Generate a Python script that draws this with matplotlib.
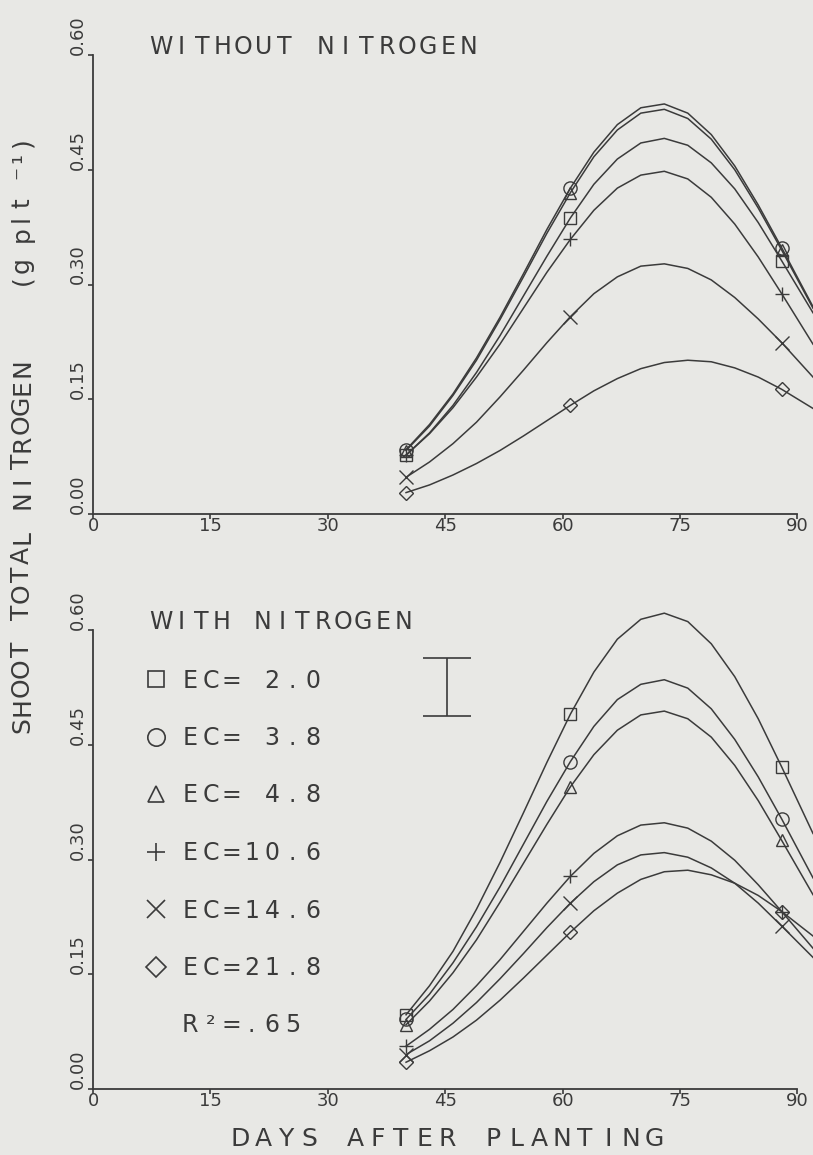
import matplotlib
matplotlib.use('Agg')
import matplotlib.pyplot as plt
from matplotlib.lines import Line2D

W, H = 813, 1155
BG = '#e8e8e5'
INK = '#3b3b3b'

days = [40, 43, 46, 49, 52, 55, 58, 61, 64, 67, 70, 73, 76, 79, 82, 85, 88, 92]
sample_days = [40, 61, 88]

# WITHOUT NITROGEN (g plt-1)
wo_ec20 = [0.077, 0.106, 0.142, 0.185, 0.233, 0.285, 0.337, 0.387, 0.431, 0.464, 0.485, 0.491, 0.482, 0.459, 0.425, 0.381, 0.331, 0.263]
wo_ec38 = [0.084, 0.117, 0.157, 0.204, 0.257, 0.314, 0.372, 0.426, 0.473, 0.509, 0.531, 0.536, 0.524, 0.496, 0.455, 0.404, 0.348, 0.271]
wo_ec48 = [0.083, 0.115, 0.155, 0.201, 0.254, 0.310, 0.367, 0.420, 0.467, 0.502, 0.524, 0.529, 0.517, 0.490, 0.450, 0.400, 0.345, 0.269]
wo_ec106 = [0.077, 0.105, 0.139, 0.179, 0.222, 0.269, 0.316, 0.359, 0.397, 0.426, 0.443, 0.448, 0.438, 0.414, 0.379, 0.336, 0.288, 0.222]
wo_ec146 = [0.048, 0.068, 0.092, 0.120, 0.153, 0.188, 0.224, 0.258, 0.288, 0.310, 0.324, 0.327, 0.321, 0.306, 0.283, 0.255, 0.224, 0.179]
wo_ec218 = [0.028, 0.038, 0.051, 0.066, 0.083, 0.102, 0.122, 0.142, 0.161, 0.177, 0.190, 0.198, 0.201, 0.199, 0.191, 0.179, 0.163, 0.138]

# WITH NITROGEN
wn_ec20 = [0.097, 0.135, 0.180, 0.235, 0.296, 0.361, 0.427, 0.490, 0.545, 0.588, 0.614, 0.622, 0.611, 0.582, 0.539, 0.484, 0.421, 0.334]
wn_ec38 = [0.091, 0.124, 0.165, 0.212, 0.264, 0.320, 0.376, 0.428, 0.474, 0.509, 0.529, 0.535, 0.524, 0.497, 0.457, 0.408, 0.353, 0.276]
wn_ec48 = [0.084, 0.115, 0.152, 0.195, 0.244, 0.295, 0.346, 0.395, 0.437, 0.469, 0.489, 0.494, 0.484, 0.460, 0.423, 0.377, 0.325, 0.254]
wn_ec106 = [0.056, 0.078, 0.104, 0.135, 0.169, 0.206, 0.243, 0.278, 0.308, 0.331, 0.345, 0.348, 0.341, 0.324, 0.299, 0.267, 0.232, 0.184]
wn_ec146 = [0.045, 0.063, 0.086, 0.113, 0.144, 0.177, 0.211, 0.243, 0.271, 0.293, 0.306, 0.309, 0.303, 0.289, 0.269, 0.243, 0.213, 0.172]
wn_ec218 = [0.035, 0.050, 0.068, 0.090, 0.116, 0.145, 0.175, 0.205, 0.233, 0.256, 0.274, 0.284, 0.286, 0.280, 0.269, 0.253, 0.232, 0.200]

ec_labels = ['EC= 2.0', 'EC= 3.8', 'EC= 4.8', 'EC=10.6', 'EC=14.6', 'EC=21.8']
markers = ['s', 'o', '^', '+', 'x', 'D']
msizes = [9, 9.5, 8, 9.5, 9.5, 7]

# LSD bar in the lower panel
lsd_day = 45.2
lsd_mid = 0.526
lsd_half = 0.038

xticks = [0, 15, 30, 45, 60, 75, 90]
yticks = [0.0, 0.15, 0.30, 0.45, 0.60]
ylabels = ['0.00', '0.15', '0.30', '0.45', '0.60']

fig = plt.figure(figsize=(W / 100, H / 100), dpi=100, facecolor=BG)


def spaced(x, y, s, size, pitch, rot=0):
    # plotter style lettering: every character in its own slot (pixels, from top-left)
    for i, ch in enumerate(s):
        if rot == 0:
            px, py = x + i * pitch, y
        else:
            px, py = x, y - i * pitch
        fig.text(px / W, 1 - py / H, ch, fontsize=size, color=INK, family='DejaVu Sans',
                 ha='center', va='baseline', rotation=rot, rotation_mode='anchor')


def panel(top_px, bottom_px, curves):
    ax = fig.add_axes([93 / W, 1 - bottom_px / H, (W - 93) / W, (bottom_px - top_px) / H])
    ax.set_facecolor('none')
    ax.set_xlim(0, 92)
    ax.set_ylim(0, 0.6)
    for side in ['top', 'right']:
        ax.spines[side].set_visible(False)
    for side in ['left', 'bottom']:
        ax.spines[side].set_color(INK)
        ax.spines[side].set_linewidth(1.3)
    ax.spines['bottom'].set_bounds(0, 90)
    ax.set_xticks(xticks)
    ax.set_xticklabels([str(t) for t in xticks])
    ax.set_yticks(yticks)
    ax.set_yticklabels(ylabels, rotation=90, va='bottom')
    ax.tick_params(direction='out', length=3.5, width=1.2, colors=INK, labelsize=13)
    ax.tick_params(axis='x', pad=-1)
    ax.tick_params(axis='y', pad=1)
    for vals, m, ms in zip(curves, markers, msizes):
        ax.plot(days, vals, color=INK, lw=1.1, clip_on=False)
        pts = [vals[days.index(d)] for d in sample_days]
        ax.plot(sample_days, pts, ls='none', marker=m, ms=ms, mfc='none', mec=INK, mew=1.0,
                clip_on=False)
    return ax


ax_top = panel(55, 514, [wo_ec20, wo_ec38, wo_ec48, wo_ec106, wo_ec146, wo_ec218])
ax_bot = panel(630, 1089, [wn_ec20, wn_ec38, wn_ec48, wn_ec106, wn_ec146, wn_ec218])

ax_bot.errorbar([lsd_day], [lsd_mid], yerr=[lsd_half], fmt='none', ecolor=INK,
                elinewidth=1.2, capsize=17, capthick=1.2)

# panel titles
spaced(161, 54, 'WITHOUT NITROGEN', 17, 20.5)
spaced(161, 629, 'WITH NITROGEN', 17, 20.2)

# legend, drawn by hand like the plotter did
for i, (lab, m, ms) in enumerate(zip(ec_labels, markers, msizes)):
    yc = 679 + i * 57.5
    fig.add_artist(Line2D([156 / W], [1 - yc / H], transform=fig.transFigure, ls='none',
                          marker=m, ms=ms + 3, mfc='none', mec=INK, mew=1.2))
    spaced(190, yc + 8.5, lab, 17, 20.5)
spaced(190, 679 + 6 * 57.5 + 8.5, 'R²=.65', 17, 20.5)

# axis titles
spaced(447 - 9 * 23, 1146, 'DAYS AFTER PLANTING', 18, 23)
spaced(29, 725, 'SHOOT TOTAL NITROGEN', 18, 18.8, rot=90)
spaced(29, 280, '(g plt ⁻¹)', 18, 15.3, rot=90)

fig.savefig('out.png', dpi=100, facecolor=BG)
